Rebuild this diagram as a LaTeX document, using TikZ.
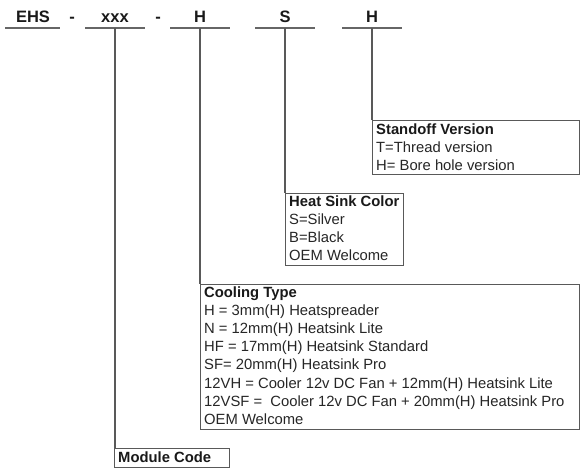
\documentclass[tikz,border=0pt]{standalone}
\usepackage{fontspec}
\setmainfont{Liberation Sans}
\begin{document}
\begin{tikzpicture}[x=1pt,y=-1pt,
  toplbl/.style={font=\fontsize{16.5}{18}\selectfont\bfseries, text=black!90, inner sep=0pt, anchor=base},
  uline/.style={draw=black!60, line width=1.6pt},
  conn/.style={draw=black!65, line width=1.2pt},
  boxx/.style={draw=black!65, line width=1.2pt, rectangle, inner sep=0pt, anchor=north west},
  hd/.style={font=\fontsize{14.8}{18}\selectfont\bfseries, text=black!90, inner sep=0pt, anchor=base west},
  ln/.style={font=\fontsize{14.8}{18}\selectfont, text=black!85, inner sep=0pt, anchor=base west}]
\useasboundingbox (0,0) rectangle (581,470);
\fill[white] (0,0) rectangle (581,470);

% top code labels
\node[toplbl] (tEHS) at (33,22.5) {EHS};
\node[toplbl] (d1) at (72,22.5) {-};
\node[toplbl] (tX) at (115,22.5) {xxx};
\node[toplbl] (d2) at (158,22.5) {-};
\node[toplbl] (tH) at (200,22.5) {H};
\node[toplbl] (tS) at (285,22.5) {S};
\node[toplbl] (tH2) at (372,22.5) {H};

% underlines
\coordinate (uEa) at (5,28); \coordinate (uEb) at (60,28);
\coordinate (uXa) at (85,28); \coordinate (uXb) at (145,28);
\coordinate (uHa) at (170,28); \coordinate (uHb) at (230,28);
\coordinate (uSa) at (255,28); \coordinate (uSb) at (315,28);
\coordinate (uTa) at (342,28); \coordinate (uTb) at (402,28);
\draw[uline] (uEa) -- (uEb);
\draw[uline] (uXa) -- (uXb);
\draw[uline] (uHa) -- (uHb);
\draw[uline] (uSa) -- (uSb);
\draw[uline] (uTa) -- (uTb);
\coordinate (cX) at (115,28);
\coordinate (cH) at (200,28);
\coordinate (cS) at (285,28);
\coordinate (cT) at (372,28);

% boxes
\node[boxx, minimum width=207pt, minimum height=54pt] (standoff) at (372,120) {};
\node[boxx, minimum width=118pt, minimum height=72pt] (color) at (285,193) {};
\node[boxx, minimum width=379pt, minimum height=145pt] (cooling) at (200,284) {};
\node[boxx, minimum width=115pt, minimum height=19pt] (module) at (114,448) {};

% connectors
\draw[conn] (cT) -- (standoff.north west);
\draw[conn] (cS) -- (color.north west);
\draw[conn] (cH) -- (cooling.north west);
\draw[conn] (cX) -- (cX |- module.north);

% standoff text
\node[hd] (st1) at (376,135) {Standoff Version};
\node[ln] (st2) at (376,153) {T=Thread version};
\node[ln] (st3) at (376,171) {H= Bore hole version};

% colour text
\node[hd] (co1) at (289,207) {Heat Sink Color};
\node[ln] (co2) at (289,225) {S=Silver};
\node[ln] (co3) at (289,243) {B=Black};
\node[ln] (co4) at (289,261) {OEM Welcome};

% cooling text
\node[hd] (cl1) at (204,298) {Cooling Type};
\node[ln] (cl2) at (204,316) {H = 3mm(H) Heatspreader};
\node[ln] (cl3) at (204,334) {N = 12mm(H) Heatsink Lite};
\node[ln] (cl4) at (204,352) {HF = 17mm(H) Heatsink Standard};
\node[ln] (cl5) at (204,370) {SF= 20mm(H) Heatsink Pro};
\node[ln] (cl6) at (204,388) {12VH = Cooler 12v DC Fan + 12mm(H) Heatsink Lite};
\node[ln] (cl7) at (204,406) {12VSF = \ Cooler 12v DC Fan + 20mm(H) Heatsink Pro};
\node[ln] (cl8) at (204,424) {OEM Welcome};

% module code
\node[hd] (mc) at (118,462.5) {Module Code};
\end{tikzpicture}
\end{document}
